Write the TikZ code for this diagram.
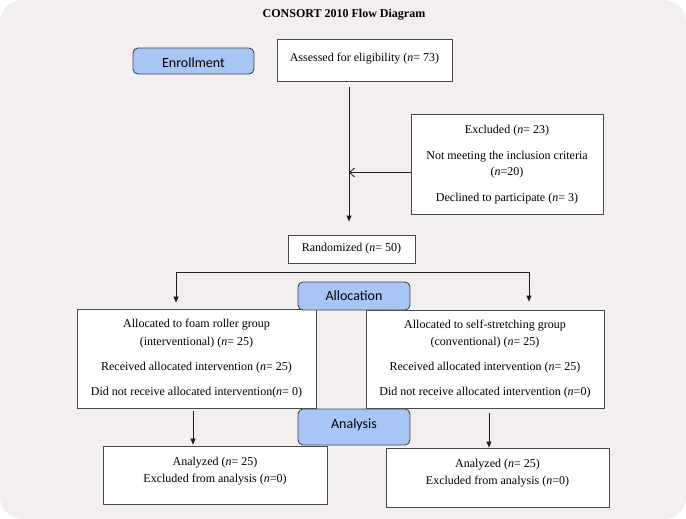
\documentclass[tikz,border=0pt]{standalone}
\usepackage{fontspec}
\setmainfont{Liberation Serif}
\newfontfamily\calib{Carlito}
\usetikzlibrary{arrows.meta}
\definecolor{bgc}{RGB}{242,239,238}
\definecolor{bluefill}{RGB}{168,198,245}
\definecolor{edgec}{RGB}{72,72,72}
\definecolor{linec}{RGB}{30,30,30}
\begin{document}
\begin{tikzpicture}[x=1pt,y=-1pt,
  box/.style={draw=edgec, fill=white, line width=0.9pt, inner sep=0pt, align=center, font=\fontsize{12}{16}\selectfont},
  phase/.style={draw=edgec, fill=bluefill, rounded corners=5pt, line width=0.9pt, inner sep=0pt, font=\calib\fontsize{14}{16}\selectfont},
  lbl/.style={align=center, inner sep=0pt},
  ln/.style={draw=linec, line width=0.8pt},
  arr/.style={ln, -{Triangle[length=6pt,width=5pt]}},
  barb/.style={ln, -{Straight Barb[length=5pt,width=9pt]}}]
\useasboundingbox (0,0) rectangle (686,519);
\fill[white] (0,0) rectangle (686,519);
\fill[bgc, rounded corners=22pt] (0,0) rectangle (686,519);

\node[font=\bfseries\fontsize{12}{14}\selectfont] (title) at (344,15) {CONSORT 2010 Flow Diagram};

\node[phase, minimum width=121pt, minimum height=26pt, text height=14pt, text depth=0pt] (enroll) at (193.5,61) {Enrollment};
\node[box, minimum width=175pt, minimum height=42pt, text height=10pt, text depth=7pt] (assess) at (364.5,60) {Assessed for eligibility (\textit{n}= 73)};

\node[box, minimum width=192pt, minimum height=100pt] (excl) at (507,164.5)
  {Excluded (\textit{n}= 23)\\[10pt]Not meeting the inclusion criteria\\(\textit{n}=20)\\[10pt]Declined to participate (\textit{n}= 3)};

\node[box, minimum width=127pt, minimum height=28pt] (rand) at (351.5,249) {Randomized (\textit{n}= 50)};

\node[box, minimum width=239pt, minimum height=99pt, font=\fontsize{12}{17.5}\selectfont] (lgrp) at (196.5,358.5)
  {Allocated to foam roller group\\(interventional) (\textit{n}= 25)\\[7.5pt]Received allocated intervention (\textit{n}= 25)\\[7.5pt]Did not receive allocated intervention(\textit{n}= 0)};
\node[box, minimum width=238pt, minimum height=98pt, font=\fontsize{12}{17.5}\selectfont] (rgrp) at (485,359)
  {Allocated to self-stretching group\\(conventional) (\textit{n}= 25)\\[7.5pt]Received allocated intervention (\textit{n}= 25)\\[7.5pt]Did not receive allocated intervention (\textit{n}=0)};

\node[phase, minimum width=112pt, minimum height=28pt] (alloc) at (354,296) {Allocation};
\node[phase, minimum width=112pt, minimum height=36pt, text height=10pt, text depth=8pt] (anal) at (354,427) {Analysis};

\node[box, minimum width=224pt, minimum height=58pt,
  label={[lbl, yshift=3.5pt, font=\fontsize{12}{17}\selectfont]center:{Analyzed (\textit{n}= 25)\\Excluded from analysis (\textit{n}=0)}}] (lana) at (215,475) {};
\node[box, minimum width=223pt, minimum height=59pt,
  label={[lbl, yshift=4pt, font=\fontsize{12}{17}\selectfont]center:{Analyzed (\textit{n}= 25)\\Excluded from analysis (\textit{n}=0)}}] (rana) at (497.5,477.5) {};

% connectors
\coordinate (v) at (349,0);
\draw[arr, shorten <=6pt, shorten >=13pt] (assess.south -| v) -- (rand.north -| v);
\draw[barb] ([yshift=-8pt]excl.west) -- ([yshift=-8pt]excl.west -| v);

\coordinate (la) at (176,272);
\coordinate (ra) at (529,272);
\draw[arr, shorten >=6pt] (ra) -- (la) -- (la |- lgrp.north);
\draw[arr, shorten >=8pt] (ra) -- (ra |- rgrp.north);

\coordinate (lx) at (193,0);
\coordinate (rx) at (489,0);
\draw[arr, shorten <=3pt, shorten >=1pt] (lgrp.south -| lx) -- (lana.north -| lx);
\draw[arr, shorten <=5pt] (rgrp.south -| rx) -- (rana.north -| rx);
\end{tikzpicture}
\end{document}
